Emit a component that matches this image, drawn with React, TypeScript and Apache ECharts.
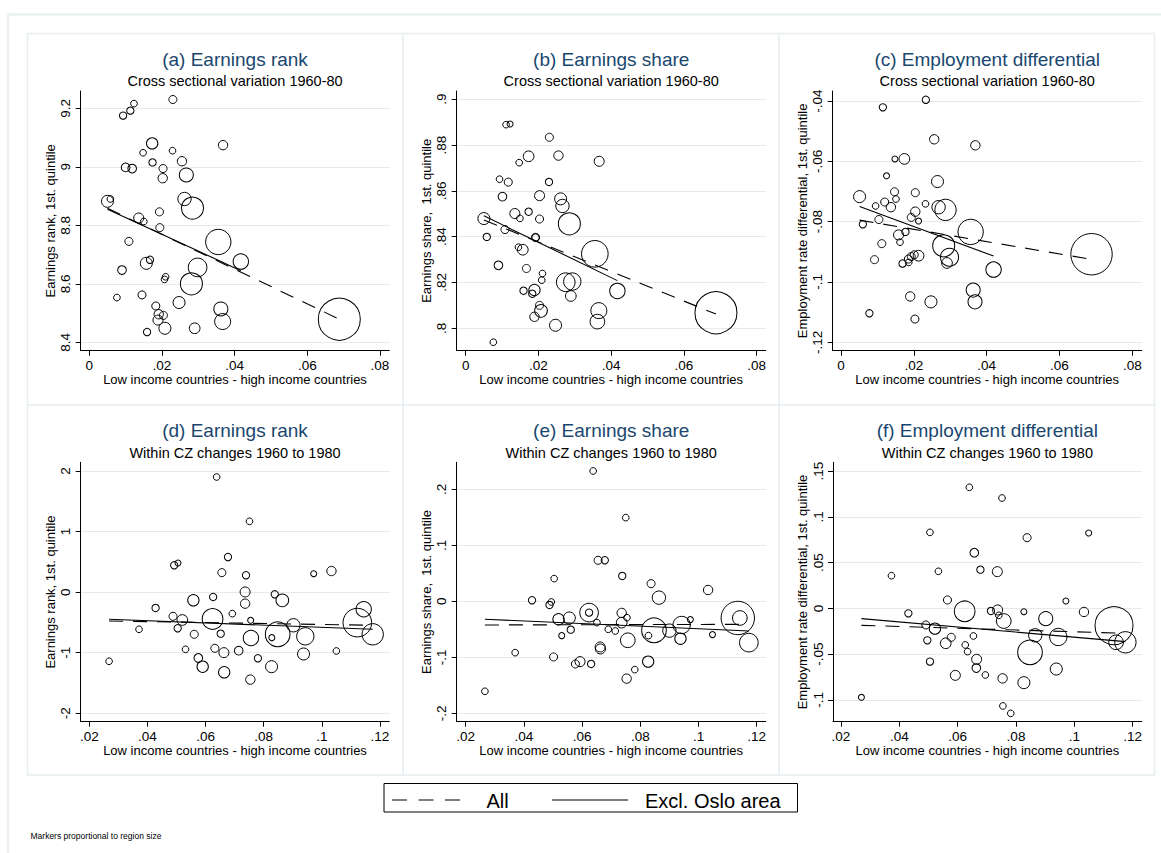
import React, { useEffect, useRef } from "react";
import * as echarts from "echarts";

type Pt = [number, number, number]; // [x, y, region size weight]
type Seg = [number, number][];

const FONT = "'Liberation Sans', Arial, Helvetica, sans-serif";

// ---------------- DATA ----------------
const xName = "Low income countries - high income countries";

const titles = [
  "(a) Earnings rank",
  "(b) Earnings share",
  "(c) Employment differential",
  "(d) Earnings rank",
  "(e) Earnings share",
  "(f) Employment differential",
];
const subtitleCross = "Cross sectional variation 1960-80";
const subtitleChange = "Within CZ changes 1960 to 1980";
const yNames = [
  "Earnings rank, 1st. quintile",
  "Earnings share,  1st. quintile",
  "Employment rate differential, 1st. quintile",
  "Earnings rank, 1st. quintile",
  "Earnings share,  1st. quintile",
  "Employment rate differential, 1st. quintile",
];

const xTicksCross = [0, 0.02, 0.04, 0.06, 0.08];
const xTicksChange = [0.02, 0.04, 0.06, 0.08, 0.1, 0.12];
const yTicksA = [8.4, 8.6, 8.8, 9, 9.2];
const yTicksB = [0.8, 0.82, 0.84, 0.86, 0.88, 0.9];
const yTicksC = [-0.12, -0.1, -0.08, -0.06, -0.04];
const yTicksD = [-2, -1, 0, 1, 2];
const yTicksE = [-0.2, -0.1, 0, 0.1, 0.2];
const yTicksF = [-0.1, -0.05, 0, 0.05, 0.1, 0.15];

const rankCross: Pt[] = [
  [0.023, 9.23, 1.44], [0.0123, 9.216, 1.0], [0.0113, 9.192, 1.21], [0.0093, 9.175, 1.21],
  [0.0173, 9.08, 2.89], [0.0368, 9.074, 1.96], [0.0148, 9.048, 1.0], [0.0229, 9.055, 1.0],
  [0.0174, 9.015, 1.21], [0.0255, 9.019, 1.96], [0.01, 8.998, 1.69], [0.0118, 8.994, 1.69],
  [0.0203, 8.994, 1.44], [0.0202, 8.961, 1.96], [0.0267, 8.972, 4.41], [0.005, 8.882, 3.24],
  [0.0058, 8.89, 1.0], [0.0262, 8.89, 4.0], [0.0284, 8.859, 10.89], [0.0193, 8.846, 1.44],
  [0.0136, 8.825, 2.25], [0.015, 8.813, 1.0], [0.0194, 8.792, 1.44], [0.0109, 8.745, 1.44],
  [0.0355, 8.743, 14.44], [0.0417, 8.676, 5.29], [0.0157, 8.67, 3.24], [0.0167, 8.682, 1.21],
  [0.0298, 8.656, 7.84], [0.009, 8.647, 1.69], [0.021, 8.624, 1.0], [0.0207, 8.615, 1.0],
  [0.0281, 8.6, 10.89], [0.0076, 8.553, 1.0], [0.0145, 8.562, 1.44], [0.0247, 8.536, 3.24],
  [0.0183, 8.524, 1.44], [0.0362, 8.514, 4.41], [0.0191, 8.496, 1.96], [0.0204, 8.492, 1.44],
  [0.0189, 8.476, 2.25], [0.0367, 8.471, 5.76], [0.0208, 8.448, 3.24], [0.029, 8.448, 2.56],
  [0.0159, 8.435, 1.21], [0.0688, 8.479, 39.69],
];

const shareCross: Pt[] = [
  [0.0111, 0.8889, 1.0], [0.0122, 0.8892, 0.81], [0.023, 0.8834, 1.44], [0.0173, 0.8751, 2.56],
  [0.0255, 0.8754, 1.96], [0.0147, 0.8723, 1.0], [0.0367, 0.8729, 2.25], [0.0093, 0.8651, 1.0],
  [0.0117, 0.8638, 1.44], [0.0229, 0.8639, 1.21], [0.0101, 0.8575, 1.69], [0.0203, 0.8579, 2.25],
  [0.0261, 0.8565, 3.24], [0.0266, 0.8534, 4.0], [0.0135, 0.8501, 2.25], [0.0173, 0.8509, 1.21],
  [0.0149, 0.848, 1.0], [0.0203, 0.8477, 1.44], [0.005, 0.8479, 3.24], [0.0285, 0.8456, 10.89],
  [0.0108, 0.8431, 1.44], [0.0058, 0.8399, 1.21], [0.0192, 0.8396, 1.21], [0.0192, 0.8397, 1.44],
  [0.0145, 0.8354, 1.0], [0.0157, 0.8343, 2.56], [0.0355, 0.8325, 16.0], [0.009, 0.8275, 1.69],
  [0.0167, 0.8261, 1.44], [0.0211, 0.8239, 1.0], [0.0209, 0.821, 1.0], [0.0275, 0.8201, 7.84],
  [0.0293, 0.8204, 6.76], [0.0417, 0.8163, 5.29], [0.0159, 0.8164, 1.21], [0.0189, 0.8167, 2.89],
  [0.0183, 0.8151, 1.21], [0.0289, 0.8141, 2.56], [0.0203, 0.81, 1.44], [0.0207, 0.8076, 3.61],
  [0.0366, 0.8077, 5.76], [0.0189, 0.805, 1.96], [0.0362, 0.8029, 4.84], [0.0247, 0.8013, 3.24],
  [0.0076, 0.7939, 1.0], [0.0688, 0.8068, 39.69],
];

const empCross: Pt[] = [
  [0.0233, -0.0396, 1.21], [0.0115, -0.0421, 1.21], [0.0256, -0.0527, 1.96], [0.0369, -0.0547, 1.96],
  [0.0148, -0.0592, 0.81], [0.0174, -0.0592, 2.56], [0.0125, -0.0648, 0.81], [0.0265, -0.0667, 3.24],
  [0.0147, -0.0701, 1.44], [0.0204, -0.0704, 1.44], [0.0051, -0.0717, 3.24], [0.0151, -0.0725, 1.0],
  [0.012, -0.0735, 1.44], [0.0232, -0.0741, 1.0], [0.0095, -0.0748, 1.0], [0.0137, -0.0752, 1.96],
  [0.0268, -0.0752, 4.0], [0.0287, -0.0761, 10.24], [0.0204, -0.0767, 1.96], [0.0193, -0.0786, 1.44],
  [0.0104, -0.0793, 1.44], [0.0213, -0.0798, 0.81], [0.006, -0.0809, 1.21], [0.0356, -0.0834, 14.44],
  [0.0177, -0.0834, 1.21], [0.0158, -0.0844, 2.25], [0.0162, -0.0868, 1.0], [0.0112, -0.0873, 1.44],
  [0.0282, -0.088, 10.89], [0.0298, -0.0918, 7.29], [0.0213, -0.0913, 2.56], [0.0201, -0.091, 1.44],
  [0.0193, -0.0916, 1.44], [0.0185, -0.0924, 1.44], [0.0092, -0.0926, 1.44], [0.0169, -0.0939, 1.21],
  [0.0186, -0.0935, 1.0], [0.0291, -0.0937, 2.56], [0.0419, -0.0959, 5.29], [0.0363, -0.1027, 4.41],
  [0.0368, -0.1066, 4.41], [0.019, -0.1048, 1.96], [0.0247, -0.1066, 3.24], [0.0078, -0.1104, 1.21],
  [0.0203, -0.1123, 1.44], [0.0688, -0.0908, 38.44],
];

const rankChange: Pt[] = [
  [0.0638, 1.901, 1.0], [0.0751, 1.169, 1.0], [0.0677, 0.58, 1.21], [0.0492, 0.443, 1.21],
  [0.0505, 0.481, 0.81], [0.0656, 0.322, 1.44], [0.0739, 0.278, 1.21], [0.0972, 0.305, 0.81],
  [0.1033, 0.349, 1.96], [0.0736, 0.003, 2.25], [0.0558, -0.135, 2.89], [0.0626, -0.08, 1.21],
  [0.0838, -0.036, 1.21], [0.0864, -0.135, 3.61], [0.0736, -0.19, 1.96], [0.0428, -0.261, 1.21],
  [0.1144, -0.283, 5.29], [0.0692, -0.355, 1.0], [0.0488, -0.399, 1.44], [0.052, -0.46, 2.56],
  [0.0624, -0.443, 9.61], [0.0755, -0.465, 0.81], [0.0504, -0.597, 1.21], [0.0902, -0.547, 4.0],
  [0.1122, -0.503, 18.49], [0.0371, -0.613, 1.0], [0.0848, -0.696, 13.69], [0.0652, -0.685, 1.21],
  [0.0561, -0.696, 1.44], [0.0943, -0.729, 6.76], [0.0756, -0.757, 5.29], [0.1175, -0.696, 10.24],
  [0.0828, -0.751, 0.81], [0.0531, -0.944, 1.0], [0.0632, -0.927, 1.44], [0.0663, -0.999, 2.25],
  [0.0714, -0.966, 1.69], [0.105, -0.971, 1.0], [0.0937, -1.021, 3.24], [0.0575, -1.087, 1.69],
  [0.078, -1.092, 1.21], [0.059, -1.23, 2.89], [0.0827, -1.23, 3.24], [0.0664, -1.323, 2.89],
  [0.0754, -1.444, 1.96], [0.0268, -1.141, 1.0],
];

const shareChange: Pt[] = [
  [0.0638, 0.2327, 1.0], [0.075, 0.1494, 1.0], [0.0655, 0.0732, 1.44], [0.0678, 0.0732, 1.21],
  [0.0504, 0.0405, 1.0], [0.0738, 0.0452, 1.21], [0.0837, 0.0315, 1.44], [0.1033, 0.0202, 1.96],
  [0.0864, 0.0065, 4.0], [0.0428, 0.0018, 1.21], [0.0494, -0.0012, 1.0], [0.0488, -0.0065, 1.21],
  [0.0624, -0.0202, 7.84], [0.0624, -0.0202, 1.21], [0.0736, -0.0208, 1.96], [0.1135, -0.0298, 25.0],
  [0.1142, -0.0298, 4.84], [0.0754, -0.0292, 1.0], [0.0556, -0.0298, 3.24], [0.0519, -0.0321, 2.89],
  [0.0972, -0.0327, 0.81], [0.0651, -0.0381, 1.0], [0.0736, -0.0381, 2.56], [0.0942, -0.0423, 6.76],
  [0.069, -0.05, 1.0], [0.0714, -0.053, 1.0], [0.0561, -0.0506, 1.21], [0.0847, -0.0518, 13.69],
  [0.09, -0.0524, 4.0], [0.053, -0.0613, 0.81], [0.0828, -0.0613, 1.0], [0.1048, -0.0595, 0.81],
  [0.0938, -0.0667, 2.89], [0.0757, -0.0696, 4.84], [0.1173, -0.0738, 7.84], [0.0662, -0.0815, 2.25],
  [0.0663, -0.0851, 2.25], [0.037, -0.0917, 1.0], [0.0502, -0.0994, 1.44], [0.0593, -0.1077, 2.25],
  [0.0577, -0.1119, 1.44], [0.0631, -0.1119, 1.21], [0.0827, -0.1077, 2.89], [0.0781, -0.122, 1.0],
  [0.0753, -0.1381, 1.96], [0.0266, -0.1607, 1.0],
];

const empChange: Pt[] = [
  [0.064, 0.1322, 1.0], [0.0752, 0.1205, 1.0], [0.0505, 0.083, 1.0], [0.1049, 0.0823, 0.81],
  [0.0838, 0.0772, 1.44], [0.0657, 0.0608, 1.69], [0.0373, 0.0357, 1.0], [0.0534, 0.0405, 1.0],
  [0.0678, 0.0423, 1.21], [0.0736, 0.0401, 2.25], [0.0565, 0.0092, 1.44], [0.0971, 0.0081, 0.81],
  [0.0431, -0.0054, 1.21], [0.0624, -0.0032, 9.61], [0.0714, -0.0028, 1.21], [0.0737, -0.0017, 2.25],
  [0.0741, -0.0076, 1.0], [0.0827, -0.0036, 0.81], [0.1033, -0.0039, 1.96], [0.0758, -0.0138, 4.84],
  [0.0902, -0.0112, 4.41], [0.1136, -0.0188, 32.49], [0.0491, -0.0181, 1.44], [0.0522, -0.0221, 2.89],
  [0.0654, -0.0301, 1.0], [0.0578, -0.0316, 1.44], [0.0866, -0.0294, 4.0], [0.0945, -0.0312, 6.76],
  [0.0496, -0.0349, 1.21], [0.0559, -0.0381, 2.56], [0.1143, -0.037, 4.84], [0.1175, -0.037, 10.24],
  [0.0626, -0.0399, 1.0], [0.0634, -0.0472, 1.0], [0.0848, -0.048, 13.69], [0.0665, -0.0556, 2.25],
  [0.0505, -0.0581, 1.21], [0.0664, -0.0651, 1.69], [0.0938, -0.0662, 3.24], [0.0592, -0.0731, 2.25],
  [0.0695, -0.0727, 1.0], [0.0754, -0.0764, 1.96], [0.0827, -0.0811, 3.24], [0.027, -0.0971, 0.81],
  [0.0755, -0.1065, 1.0], [0.0782, -0.1146, 1.0],
];

// fitted lines: "All" (dashed) and "Excl. Oslo area" (solid)
const fitAllA: Seg = [[0.005, 8.858], [0.0688, 8.479]];
const fitExclA: Seg = [[0.005, 8.855], [0.0417, 8.645]];
const fitAllB: Seg = [[0.005, 0.8473], [0.0688, 0.8062]];
const fitExclB: Seg = [[0.005, 0.8491], [0.0417, 0.8208]];
const fitAllC: Seg = [[0.0051, -0.0795], [0.0688, -0.0925]];
const fitExclC: Seg = [[0.0051, -0.075], [0.0419, -0.0914]];
const fitAllD: Seg = [[0.0268, -0.476], [0.1175, -0.547]];
const fitExclD: Seg = [[0.0268, -0.448], [0.1175, -0.613]];
const fitAllE: Seg = [[0.0266, -0.0423], [0.1173, -0.0411]];
const fitExclE: Seg = [[0.0266, -0.0321], [0.1173, -0.053]];
const fitAllF: Seg = [[0.027, -0.0185], [0.1175, -0.0272]];
const fitExclF: Seg = [[0.027, -0.0112], [0.1175, -0.0363]];

const legendAll = "All";
const legendExcl = "Excl. Oslo area";
const note = "Markers proportional to region size";

// ---------------- LAYOUT ----------------
const panels = [
  { data: rankCross, all: fitAllA, excl: fitExclA, xt: xTicksCross, yt: yTicksA, xr: [-0.002367, 0.08256], yr: [8.3713, 9.2591], g: [80.7, 91, 308.6, 259.7] },
  { data: shareCross, all: fitAllB, excl: fitExclB, xt: xTicksCross, yt: yTicksB, xr: [-0.002474, 0.082474], yr: [0.7902, 0.9036], g: [456.7, 91, 309, 259.7] },
  { data: empCross, all: fitAllC, excl: fitExclC, xt: xTicksCross, yt: yTicksC, xr: [-0.00228, 0.08258], yr: [-0.12279, -0.03668], g: [832.7, 91, 309, 259.7] },
  { data: rankChange, all: fitAllD, excl: fitExclD, xt: xTicksChange, yt: yTicksD, xr: [0.01704, 0.1232], yr: [-2.1387, 2.1436], g: [80.7, 462.3, 308.6, 259.4] },
  { data: shareChange, all: fitAllE, excl: fitExclE, xt: xTicksChange, yt: yTicksE, xr: [0.01691, 0.12309], yr: [-0.215, 0.2482], g: [456.7, 462.3, 309, 259.4] },
  { data: empChange, all: fitAllF, excl: fitExclF, xt: xTicksChange, yt: yTicksF, xr: [0.01726, 0.12309], yr: [-0.1237, 0.1595], g: [833, 462.3, 308.7, 259.4] },
];

const fmt = (v: number) => {
  const s = String(Math.round(v * 1e6) / 1e6);
  return s.replace(/^(-?)0\./, "$1.");
};

const FRAME = "#e6eef0";
const GRID = "#e2ebee";
const TITLE = "#1a476f";

export default function App() {
  const ref = useRef<HTMLDivElement>(null);

  useEffect(() => {
    if (!ref.current) return;
    const chart = echarts.init(ref.current, undefined, { renderer: "svg" });

    const grids: any[] = [];
    const xAxes: any[] = [];
    const yAxes: any[] = [];
    const series: any[] = [];
    const graphics: any[] = [];

    // outer graph region frame + panel frames
    graphics.push({ type: "rect", shape: { x: 8, y: 14.5, width: 1300, height: 1000 }, style: { fill: "none", stroke: "#eaf1f3", lineWidth: 2.5 }, silent: true });
    graphics.push({ type: "rect", shape: { x: 27.5, y: 33.5, width: 1127, height: 741.5 }, style: { fill: "none", stroke: FRAME, lineWidth: 1.5 }, silent: true });
    graphics.push({ type: "line", shape: { x1: 403, y1: 33.5, x2: 403, y2: 775 }, style: { stroke: FRAME, lineWidth: 1.5 }, silent: true });
    graphics.push({ type: "line", shape: { x1: 779, y1: 33.5, x2: 779, y2: 775 }, style: { stroke: FRAME, lineWidth: 1.5 }, silent: true });
    graphics.push({ type: "line", shape: { x1: 27.5, y1: 405, x2: 1154.5, y2: 405 }, style: { stroke: FRAME, lineWidth: 1.5 }, silent: true });

    panels.forEach((p, i) => {
      const [l, t, w, h] = p.g;
      grids.push({ left: l, top: t, width: w, height: h, outerBoundsMode: "none", containLabel: false });
      xAxes.push({
        type: "value", gridIndex: i, min: p.xr[0], max: p.xr[1],
        name: xName, nameLocation: "middle", nameGap: 22, nameMoveOverlap: false,
        nameTextStyle: { fontFamily: FONT, fontSize: 13, color: "#000" },
        axisLine: { show: true, onZero: false, lineStyle: { color: "#000", width: 1 } },
        axisTick: { show: true, length: 5, customValues: p.xt, lineStyle: { color: "#000", width: 1 } },
        axisLabel: { show: true, customValues: p.xt, formatter: fmt, fontFamily: FONT, fontSize: 13.5, color: "#000", margin: 8 },
        splitLine: { show: false },
      });
      yAxes.push({
        type: "value", gridIndex: i, min: p.yr[0], max: p.yr[1],
        name: yNames[i], nameLocation: "middle", nameGap: 24, nameRotate: 90, nameMoveOverlap: false,
        nameTextStyle: { fontFamily: FONT, fontSize: 13, color: "#000" },
        axisLine: { show: true, onZero: false, lineStyle: { color: "#000", width: 1 } },
        axisTick: { show: true, length: 5, customValues: p.yt, lineStyle: { color: "#000", width: 1 } },
        axisLabel: { show: true, customValues: p.yt, formatter: fmt, rotate: 90, fontFamily: FONT, fontSize: 13.5, color: "#000", margin: 8 },
        splitLine: { show: true, lineStyle: { color: GRID, width: 1 } },
      });
      series.push({
        type: "scatter", xAxisIndex: i, yAxisIndex: i, data: p.data, silent: true, z: 2,
        symbol: "circle",
        symbolSize: (v: number[]) => 6.67 * Math.sqrt(v[2]),
        itemStyle: { color: "rgba(0,0,0,0)", borderColor: "#000", borderWidth: 1, opacity: 1 },
      });
      series.push({
        type: "line", name: legendAll, xAxisIndex: i, yAxisIndex: i, data: p.all, silent: true, z: 3,
        symbol: "none", lineStyle: { color: "#000", width: 1.1, type: [14, 10] },
      });
      series.push({
        type: "line", name: legendExcl, xAxisIndex: i, yAxisIndex: i, data: p.excl, silent: true, z: 3,
        symbol: "none", lineStyle: { color: "#000", width: 1.1, type: "solid" },
      });

      const cx = l + w / 2;
      const top = i < 3 ? 59 : 430.7;
      graphics.push({ type: "text", x: cx, y: top, silent: true, style: { text: titles[i], fill: TITLE, fontFamily: FONT, fontSize: 19, align: "center", verticalAlign: "middle" } });
      graphics.push({ type: "text", x: cx, y: top + 22, silent: true, style: { text: i < 3 ? subtitleCross : subtitleChange, fill: "#000", fontFamily: FONT, fontSize: 14.5, align: "center", verticalAlign: "middle" } });
    });

    // legend
    graphics.push({ type: "rect", shape: { x: 384, y: 783.5, width: 413.5, height: 28.5 }, style: { fill: "#fff", stroke: "#000", lineWidth: 1 }, silent: true });
    graphics.push({ type: "line", shape: { x1: 392, y1: 800, x2: 470, y2: 800 }, style: { stroke: "#000", lineWidth: 1.2, lineDash: [15, 11.5] }, silent: true });
    graphics.push({ type: "text", x: 486.5, y: 801, silent: true, style: { text: legendAll, fill: "#000", fontFamily: FONT, fontSize: 20, align: "left", verticalAlign: "middle" } });
    graphics.push({ type: "line", shape: { x1: 552, y1: 800, x2: 628, y2: 800 }, style: { stroke: "#000", lineWidth: 1.2 }, silent: true });
    graphics.push({ type: "text", x: 645, y: 801, silent: true, style: { text: legendExcl, fill: "#000", fontFamily: FONT, fontSize: 20, align: "left", verticalAlign: "middle" } });
    // note
    graphics.push({ type: "text", x: 30.5, y: 836, silent: true, style: { text: note, fill: "#000", fontFamily: FONT, fontSize: 8.5, align: "left", verticalAlign: "middle" } });

    chart.setOption({
      animation: false,
      backgroundColor: "#fff",
      grid: grids,
      xAxis: xAxes,
      yAxis: yAxes,
      series,
      graphic: { elements: graphics },
    });

    return () => chart.dispose();
  }, []);

  return <div ref={ref} style={{ position: "absolute", left: 0, top: 0, width: 1161, height: 853 }} />;
}
